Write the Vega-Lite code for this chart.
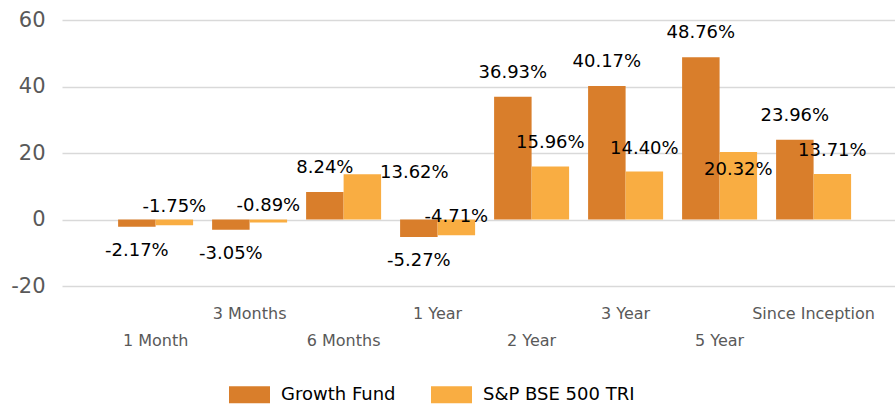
{
  "$schema": "https://vega.github.io/schema/vega-lite/v6.json",
  "autosize": "none",
  "padding": {"left": 62, "top": 20, "right": 0, "bottom": 120},
  "width": 833,
  "height": 266,
  "background": "#ffffff",
  "config": {
    "view": {"stroke": null},
    "axis": {"domain": false, "ticks": false, "tickSize": 0}
  },
  "data": {
    "values": [
      {"cat": "1 Month", "series": "Growth Fund", "value": -2.17},
      {"cat": "1 Month", "series": "S&P BSE 500 TRI", "value": -1.75},
      {"cat": "3 Months", "series": "Growth Fund", "value": -3.05},
      {"cat": "3 Months", "series": "S&P BSE 500 TRI", "value": -0.89},
      {"cat": "6 Months", "series": "Growth Fund", "value": 8.24},
      {"cat": "6 Months", "series": "S&P BSE 500 TRI", "value": 13.62},
      {"cat": "1 Year", "series": "Growth Fund", "value": -5.27},
      {"cat": "1 Year", "series": "S&P BSE 500 TRI", "value": -4.71},
      {"cat": "2 Year", "series": "Growth Fund", "value": 36.93},
      {"cat": "2 Year", "series": "S&P BSE 500 TRI", "value": 15.96},
      {"cat": "3 Year", "series": "Growth Fund", "value": 40.17},
      {"cat": "3 Year", "series": "S&P BSE 500 TRI", "value": 14.40},
      {"cat": "5 Year", "series": "Growth Fund", "value": 48.76},
      {"cat": "5 Year", "series": "S&P BSE 500 TRI", "value": 20.32},
      {"cat": "Since Inception", "series": "Growth Fund", "value": 23.96},
      {"cat": "Since Inception", "series": "S&P BSE 500 TRI", "value": 13.71}
    ]
  },
  "transform": [
    {"calculate": "replace(format(datum.value, '.2f'), '\u2212', '-') + '%'", "as": "label"}
  ],
  "encoding": {
    "x": {
      "field": "cat",
      "type": "nominal",
      "sort": null,
      "scale": {"paddingInner": 0.2021, "paddingOuter": 0.532, "align": 0.561},
      "axis": {
        "title": null,
        "labelAngle": 0,
        "labelFont": "DejaVu Sans",
        "labelFontSize": 16,
        "labelColor": "#595959",
        "labelBaseline": "middle",
        "labelPadding": {"condition": {"test": "indexof(['1 Month','6 Months','2 Year','5 Year'], datum.value) >= 0", "value": 54}, "value": 27},
        "labelOverlap": false,
        "labelLimit": 300,
        "grid": false
      }
    },
    "xOffset": {
      "field": "series",
      "type": "nominal",
      "sort": ["Growth Fund", "S&P BSE 500 TRI"],
      "scale": {"paddingInner": 0, "paddingOuter": 0}
    },
    "y": {
      "field": "value",
      "type": "quantitative",
      "scale": {"domain": [-20, 60], "nice": false, "zero": false},
      "axis": {
        "title": null,
        "values": [-20, 0, 20, 40, 60],
        "labelExpr": "'' + datum.value",
        "labelFont": "DejaVu Sans",
        "labelFontSize": 21,
        "labelColor": "#595959",
        "labelPadding": 17,
        "grid": true,
        "gridColor": "#D9D9D9",
        "gridWidth": 1.5
      }
    }
  },
  "layer": [
    {
      "mark": {"type": "bar"},
      "encoding": {
        "y2": {"datum": 0},
        "color": {
          "field": "series",
          "type": "nominal",
          "scale": {"domain": ["Growth Fund", "S&P BSE 500 TRI"], "range": ["#D97E2B", "#F9AD42"]},
          "legend": {
            "title": null,
            "orient": "none",
            "direction": "horizontal",
            "legendX": 167,
            "legendY": 354,
            "symbolType": "M-1,-0.415H1V0.415H-1Z",
            "symbolSize": 1681,
            "symbolStrokeWidth": 0,
            "labelFont": "DejaVu Sans",
            "labelFontSize": 18,
            "labelColor": "#000000",
            "labelOffset": 11,
            "columnPadding": 35
          }
        }
      }
    },
    {
      "mark": {
        "type": "text",
        "font": "DejaVu Sans",
        "fontSize": 18,
        "color": "#000000",
        "baseline": "middle",
        "align": "center",
        "dy": {"expr": "datum.series == 'Growth Fund' ? (datum.value < 0 ? 24 : -24) : (datum.cat == '6 Months' ? -1 : datum.cat == '5 Year' ? 18 : datum.cat == '3 Months' ? -16 : datum.value < 0 ? -18 : -23)"},
        "dx": {"expr": "datum.series != 'Growth Fund' && datum.cat == '6 Months' ? 52 : 0"}
      },
      "encoding": {
        "text": {"field": "label"}
      }
    }
  ]
}
